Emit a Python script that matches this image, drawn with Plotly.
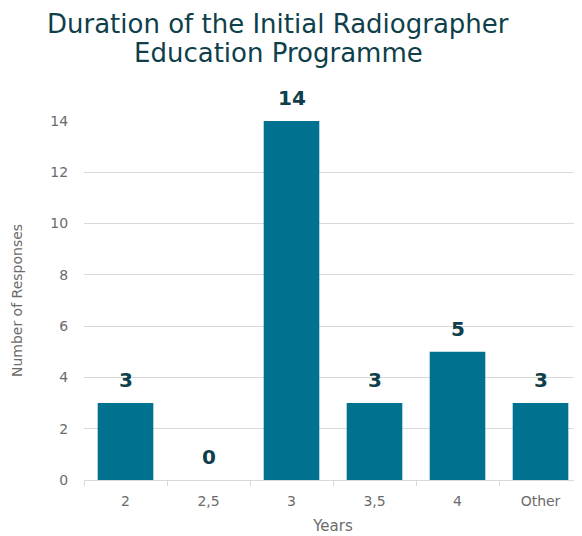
import plotly.graph_objects as go

categories = ["2", "2,5", "3", "3,5", "4", "Other"]
responses = [3, 0, 14, 3, 5, 3]
y_ticks = [0, 2, 4, 6, 8, 10, 12, 14]
title_lines = ["Duration of the Initial Radiographer", "Education Programme"]

bar_color = "#00728f"
dark = "#0e3f4a"
grey = "#6b6b6b"
font_family = "DejaVu Sans, sans-serif"

W, H = 574, 528
L, R, T, B = 76, 0, 113, 56
plot_h = H - T - B

fig = go.Figure(
    go.Bar(
        x=categories,
        y=responses,
        marker=dict(color=bar_color, line=dict(width=0)),
        cliponaxis=False,
        width=0.67,
    )
)

for i, v in enumerate(responses):
    fig.add_annotation(
        x=i, y=v, text=str(v),
        xref="x", yref="y",
        xanchor="center", yanchor="bottom",
        yshift=9, showarrow=False,
        font=dict(family=font_family, size=20, color=dark, weight="bold"),
    )

fig.update_layout(
    width=W,
    height=H,
    margin=dict(l=L, r=R, t=T, b=B),
    paper_bgcolor="white",
    plot_bgcolor="white",
    showlegend=False,
    font=dict(family=font_family, color=grey),
)

for i, line in enumerate(title_lines):
    fig.add_annotation(
        text=line,
        xref="paper", yref="paper",
        x=(270 - L) / (W - L - R), y=1 + (T - 16 - 29 * i) / plot_h,
        xanchor="center", yanchor="middle",
        showarrow=False,
        font=dict(family=font_family, size=26, color=dark),
    )

fig.update_xaxes(
    type="category",
    range=[-0.5, 5.5],
    tickson="boundaries",
    ticks="outside",
    ticklen=5,
    tickcolor="#d9d9d9",
    showline=True,
    linecolor="#d9d9d9",
    linewidth=1,
    showgrid=False,
    automargin=False,
    ticklabelstandoff=8,
    tickfont=dict(size=14, color=grey),
    title=dict(text="Years", font=dict(size=15, color=grey), standoff=12),
)

fig.update_yaxes(
    range=[0, 14],
    tickvals=y_ticks,
    showgrid=True,
    gridcolor="#d9d9d9",
    gridwidth=1,
    zeroline=False,
    showline=False,
    ticks="outside",
    ticklen=12,
    tickcolor="white",
    automargin=False,
    tickfont=dict(size=14, color=grey),
    title=dict(text="Number of Responses", font=dict(size=14, color=grey), standoff=24),
)

fig.write_html("out.html")
